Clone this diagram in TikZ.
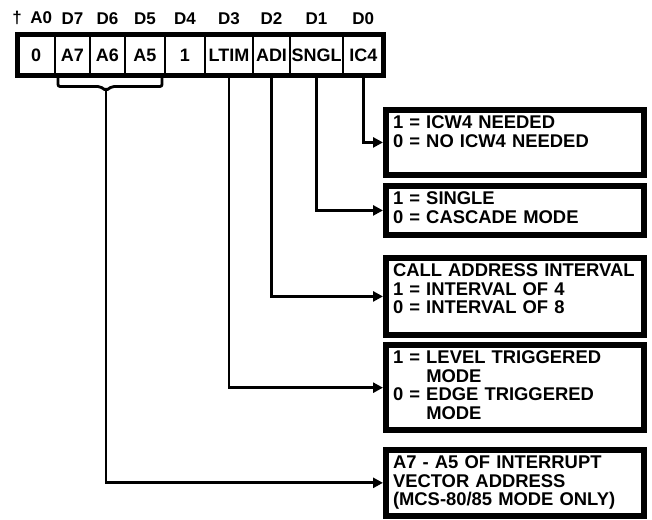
\documentclass[tikz,border=0pt]{standalone}
\usepackage{fontspec}
\setmainfont{Liberation Sans}
\usetikzlibrary{calc,positioning,arrows.meta,fit}
\hyphenpenalty=10000
\tikzstyle{cell} = [draw, rectangle, line width=2.5pt, outer sep=0pt, inner sep=0pt,
    minimum height=41pt, font=\fontsize{18}{19}\selectfont\bfseries]
\tikzstyle{bitlbl} = [inner sep=0pt, font=\fontsize{17}{19}\selectfont\bfseries]
\tikzstyle{wbox} = [draw, rectangle, line width=6pt, inner xsep=7pt, inner ysep=6pt,
    text width=244pt, align=left, anchor=north west,
    font=\fontsize{18.4}{18.5}\selectfont\bfseries]
\tikzstyle{conn} = [draw, line width=2.8pt]
\newcommand{\boxpad}[1]{\rule[-#1]{0pt}{#1}}

\begin{document}
\begin{tikzpicture}[x=1pt, y=-1pt, >={Triangle[length=10pt,width=10pt]}]
\useasboundingbox (0,0) rectangle (652,519);
% register bits
\node (c0) [cell, minimum width=37.5pt] at (36.25,55) {0};
\node (a7) [cell, minimum width=35pt, right=0pt of c0] {A7};
\node (a6) [cell, minimum width=35pt, right=0pt of a7] {A6};
\node (a5) [cell, minimum width=40pt, right=0pt of a6] {A5};
\node (one) [cell, minimum width=40pt, right=0pt of a5] {1};
\node (ltim) [cell, minimum width=48pt, right=0pt of one] {LTIM};
\node (adi) [cell, minimum width=37pt, right=0pt of ltim] {ADI};
\node (sngl) [cell, minimum width=53pt, right=0pt of adi] {SNGL};
\node (ic4) [cell, minimum width=40.5pt, right=0pt of sngl] {IC4};
\node (reg) [draw, line width=5.5pt, inner sep=0pt, fit=(c0)(ic4)] {};

\node (hc0) [bitlbl, above=9.5pt of c0, xshift=-4pt] {†\enspace A0};
\foreach \c/\t in {a7/D7,a6/D6,a5/D5,one/D4,ltim/D3,adi/D2,sngl/D1,ic4/D0}
  \node (h\c) [bitlbl, above=9.5pt of \c] {\t};

% meaning of each bit
\node (icw) [wbox] at (383,107) {1 = ICW4 NEEDED\\0 = NO ICW4 NEEDED\boxpad{21.5pt}};
\node (sgl) [wbox] at (383,183) {1 = SINGLE\\0 = CASCADE MODE\boxpad{5.5pt}};
\node (cai) [wbox] at (383,255) {CALL ADDRESS INTERVAL\\1 = INTERVAL OF 4\\0 = INTERVAL OF 8\boxpad{15pt}};
\node (trig) [wbox] at (383,342) {1 = LEVEL TRIGGERED\\\phantom{1 = }MODE\\0 = EDGE TRIGGERED\\\phantom{0 = }MODE\boxpad{5pt}};
\node (vec) [wbox] at (383,447) {A7 - A5 OF INTERRUPT\\VECTOR ADDRESS\\(MCS-80/85 MODE ONLY)};

\draw[conn,->] (ic4.south) |- (icw.west);
\draw[conn,->] (sngl.south) |- (sgl.west);
\draw[conn,->] (adi.south) |- (cai.west);
\draw[conn,->] (ltim.south) |- (trig.west);

% brace under A7..A5
\coordinate (brv) at ($(a6.south)+(-1.5,15)$);
\draw[conn, rounded corners=2pt] ([xshift=3pt]a7.south west) -- ++(0,11)
  -- ($(brv)+(-6,-4)$) -- (brv) -- ($(brv)+(6,-4)$)
  -- ($(a5.south east)+(-3,11)$) -- ++(0,-11);
\draw[conn,->] (brv) |- (vec.west);
\end{tikzpicture}
\end{document}
